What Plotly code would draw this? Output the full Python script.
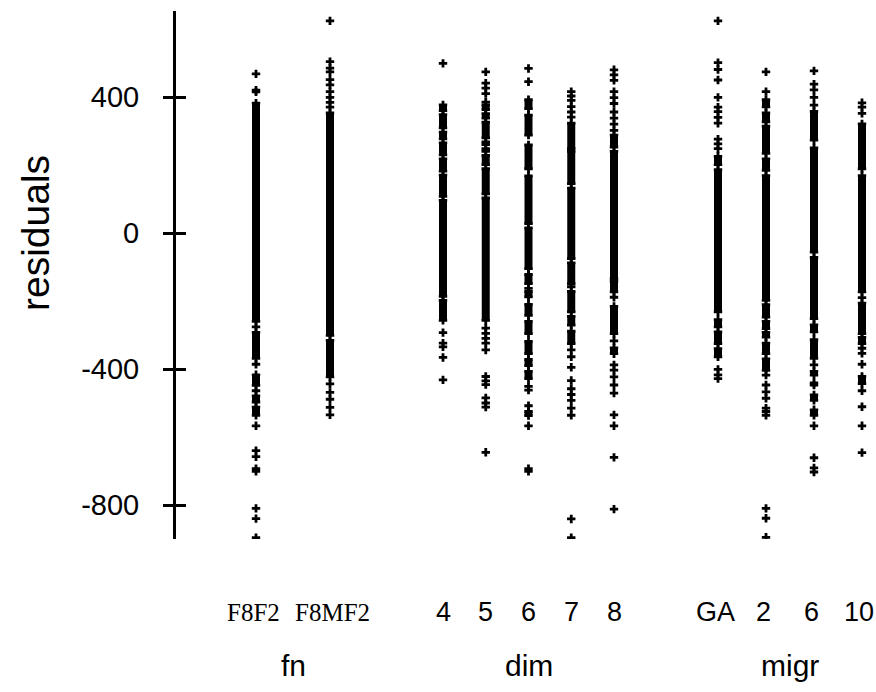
import plotly.graph_objects as go

# Residuals by factor level. Each level has a list of isolated residuals
# and a list of dense runs (high, low) where the points merge into a solid bar.

# --- fn ---
fn_F8F2_points = [468, 420, 415, -276, -386, -464, -567, -640, -658, -693, -701, -810, -840, -896]
fn_F8F2_runs = [(382, -260), (-292, -369), (-417, -448), (-479, -497), (-512, -536)]

fn_F8MF2_points = [624, 504, 485, 474, 451, 436, 416, 399, 384, 370, -444, -469, -489, -513, -535]
fn_F8MF2_runs = [(353, -301), (-316, -423)]

# --- dim ---
dim_4_points = [499, -293, -324, -335, -366, -432]
dim_4_runs = [(377, 360), (348, 309), (297, 277), (265, 230), (218, 182), (170, 108), (96, -186), (-198, -257)]

dim_5_points = [474, 441, 426, 410, 385, -280, -295, -310, -324, -344, -422, -435, -446, -485, -500, -512, -645]
dim_5_runs = [(377, 363), (351, 338), (326, 280), (268, 260), (248, 240), (228, 201), (189, 115), (103, -257)]

dim_6_points = [484, 445, -163, -451, -462, -508, -567, -693, -701]
dim_6_runs = [(392, 366), (347, 288), (259, 189), (168, 28), (15, -105), (-122, -149), (-172, -188),
              (-210, -242), (-260, -296), (-319, -355), (-372, -390), (-407, -428), (-525, -537)]

dim_7_points = [416, 403, 390, 372, 356, 341, -158, -344, -364, -395, -434, -458, -475, -492, -515, -536, -841, -896]
dim_7_runs = [(323, 248), (240, 145), (132, -75), (-88, -149), (-172, -232), (-245, -271), (-289, -325)]

dim_8_points = [480, 465, 449, 416, 398, 381, 356, 338, 320, 302, -189, -317, -388, -403, -423, -447, -471,
                -535, -567, -660, -812]
dim_8_runs = [(288, 253), (240, -134), (-142, -173), (-216, -296), (-338, -355)]

# --- migr ---
migr_GA_points = [624, 501, 481, 450, 399, 370, 357, 340, 323, 276, 262, 248, -401, -417, -428]
migr_GA_runs = [(225, 201), (186, -232), (-255, -276), (-291, -325), (-340, -364)]

migr_2_points = [474, 416, -418, -447, -467, -486, -515, -525, -536, -810, -839, -895]
migr_2_runs = [(392, 371), (353, 327), (314, 234), (218, 184), (169, -198), (-211, -247), (-260, -281),
               (-292, -306), (-324, -355), (-370, -404)]

migr_6_points = [477, 438, 421, 399, 376, -388, -567, -661, -691, -703]
migr_6_runs = [(358, 273), (250, -56), (-72, -252), (-270, -291), (-314, -369), (-407, -418), (-441, -447),
               (-476, -492), (-520, -536)]

migr_10_points = [383, 370, 352, -190, -339, -354, -386, -464, -511, -567, -646]
migr_10_runs = [(321, 189), (169, -173), (-206, -296), (-307, -325), (-422, -443)]

group_names = ["fn", "dim", "migr"]
fn_levels = ["F8F2", "F8MF2"]
dim_levels = ["4", "5", "6", "7", "8"]
migr_levels = ["GA", "2", "6", "10"]

y_tick_values = [-800, -400, 0, 400]
y_tick_labels = ["-800", "-400", "0", "400"]

columns = [
    ("fn", fn_levels[0], fn_F8F2_points, fn_F8F2_runs),
    ("fn", fn_levels[1], fn_F8MF2_points, fn_F8MF2_runs),
    ("dim", dim_levels[0], dim_4_points, dim_4_runs),
    ("dim", dim_levels[1], dim_5_points, dim_5_runs),
    ("dim", dim_levels[2], dim_6_points, dim_6_runs),
    ("dim", dim_levels[3], dim_7_points, dim_7_runs),
    ("dim", dim_levels[4], dim_8_points, dim_8_runs),
    ("migr", migr_levels[0], migr_GA_points, migr_GA_runs),
    ("migr", migr_levels[1], migr_2_points, migr_2_runs),
    ("migr", migr_levels[2], migr_6_points, migr_6_runs),
    ("migr", migr_levels[3], migr_10_points, migr_10_runs),
]

# horizontal layout of the level slots within each group
group_start = {"fn": 80, "dim": 267, "migr": 542}
group_step = {"fn": 74, "dim": 42.75, "migr": 48}
# small horizontal nudge of the level labels
label_shift = {"fn": [-3, 2], "dim": 0, "migr": -3}

fig = go.Figure()

slot_x = []
counters = {g: 0 for g in group_names}
for group, level, pts, runs in columns:
    x = group_start[group] + group_step[group] * counters[group]
    counters[group] += 1
    slot_x.append(x)

    # solid runs
    lx, ly = [], []
    for hi, lo in runs:
        lx += [x, x, None]
        ly += [hi, lo, None]
    fig.add_trace(go.Scatter(x=lx, y=ly, mode="lines", line=dict(color="black", width=8),
                             hoverinfo="skip", showlegend=False))

    # individual residuals, including the ends of every run
    my = list(pts) + [v for r in runs for v in r]
    fig.add_trace(go.Scatter(x=[x] * len(my), y=my, mode="markers",
                             marker=dict(symbol="cross", size=7, color="black", line=dict(width=0)),
                             showlegend=False))

# level labels under each column
idx = {g: 0 for g in group_names}
for (group, level, _, _), x in zip(columns, slot_x):
    serif = group == "fn"
    shift = label_shift[group]
    if isinstance(shift, list):
        shift = shift[idx[group]]
    idx[group] += 1
    fig.add_annotation(x=x, xref="x", xshift=shift, y=0, yref="paper", yanchor="middle", yshift=-73,
                       text=level, showarrow=False,
                       font=dict(family="Liberation Serif" if serif else "Liberation Sans",
                                 size=25 if serif else 27, color="black"))

# group labels
for g in group_names:
    xs = [x for (grp, _, _, _), x in zip(columns, slot_x) if grp == g]
    fig.add_annotation(x=(xs[0] + xs[-1]) / 2, xref="x", y=0, yref="paper", yanchor="middle",
                       yshift=-126, text=g, showarrow=False,
                       font=dict(family="Liberation Sans", size=30, color="black"))

# y axis title
fig.add_annotation(x=0, xref="paper", xanchor="center", xshift=-141, y=0, yref="y", yanchor="middle",
                   text="residuals", textangle=-90, showarrow=False,
                   font=dict(family="Liberation Sans", size=39, color="black"))

y_range = [-900, 653]

fig.update_layout(
    width=876, height=692,
    margin=dict(l=176, r=0, t=11, b=153),
    paper_bgcolor="white", plot_bgcolor="white",
    xaxis=dict(range=[0, 700], visible=False),
    yaxis=dict(range=y_range, tickvals=y_tick_values, ticktext=y_tick_labels,
               showline=True, linecolor="black", linewidth=3, showgrid=False, zeroline=False,
               ticks="outside", ticklen=10, tickwidth=3, tickcolor="black",
               tickfont=dict(family="Liberation Sans", size=29, color="black"),
               ticklabelstandoff=18),
    yaxis2=dict(range=y_range, overlaying="y", anchor="x", side="left", tickvals=y_tick_values,
                showticklabels=False, showline=False, showgrid=False, zeroline=False,
                ticks="inside", ticklen=10, tickwidth=3, tickcolor="black"),
)
# invisible trace so the second axis is drawn
fig.add_trace(go.Scatter(x=[None], y=[None], yaxis="y2", showlegend=False))

fig.write_html("out.html")
